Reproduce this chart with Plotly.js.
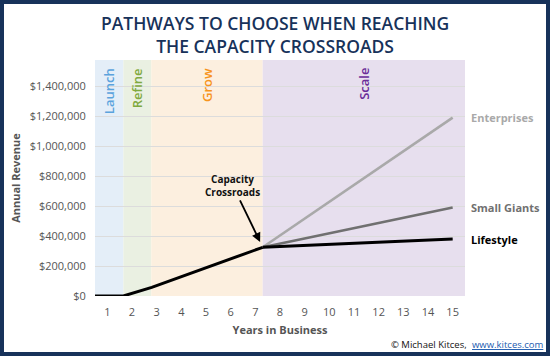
<!DOCTYPE html>
<html>
<head>
<meta charset="utf-8">
<script src="https://cdn.plot.ly/plotly-3.0.1.min.js"></script>
<style>
html,body{margin:0;padding:0;background:#fff;}
#wrap{position:relative;width:550px;height:356px;}
#chart{width:550px;height:356px;}
#frame{position:absolute;left:0;top:0;width:550px;height:356px;box-sizing:border-box;border:4px solid #17325a;pointer-events:none;}
</style>
</head>
<body>
<div id="wrap"><div id="chart"></div><div id="frame"></div></div>
<script>
// Phases
var phaseNames = ["Launch", "Refine", "Grow", "Scale"];
var phaseStart = [0.5, 1.65, 2.78, 7.3];
var phaseEnd = [1.65, 2.78, 7.3, 15.5];
var phaseFill = ["#e4eef8", "#eaf0e2", "#fcefdf", "#e7dfee"];
var phaseText = ["#5ba3dd", "#7fa93e", "#f7941d", "#6a2c98"];

// Base path (years, revenue)
var baseYears = [0.5, 1.65, 2.8, 7.3];
var baseRevenue = [0, 0, 58000, 325000];

// Pathways after the Capacity Crossroads
var pathYears = [7.3, 15];
var pathNames = ["Enterprises", "Small Giants", "Lifestyle"];
var enterprises = [325000, 1190000];
var smallGiants = [325000, 590000];
var lifestyle = [325000, 380000];
var pathColors = ["#a9a9a9", "#707070", "#000000"];

var yTicks = [0, 200000, 400000, 600000, 800000, 1000000, 1200000, 1400000];
var xTicks = [1,2,3,4,5,6,7,8,9,10,11,12,13,14,15];

var F = "Open Sans, sans-serif";
var traces = [];
var pathVals = [enterprises, smallGiants, lifestyle];
for (var i = 0; i < pathVals.length; i++) {
  traces.push({x: pathYears, y: pathVals[i], mode: "lines", type: "scatter",
    line: {color: pathColors[i], width: i === 2 ? 3 : 2.6}, hoverinfo: "skip"});
}
traces.push({x: baseYears, y: baseRevenue, mode: "lines", type: "scatter",
  line: {color: "#000", width: 3}, hoverinfo: "skip"});

var shapes = [];
var annotations = [];
for (var p = 0; p < phaseNames.length; p++) {
  shapes.push({type: "rect", xref: "x", yref: "paper", x0: phaseStart[p], x1: phaseEnd[p], y0: 0, y1: 1,
    fillcolor: phaseFill[p], line: {width: 0}, layer: "below"});
  annotations.push({xref: "x", yref: "paper", x: (phaseStart[p] + phaseEnd[p]) / 2, y: 1, yshift: -6,
    xanchor: "center", yanchor: "top", textangle: -90, showarrow: false, text: phaseNames[p],
    font: {family: F, size: 13, color: phaseText[p], weight: 600}});
}
for (var k = 0; k < pathNames.length; k++) {
  annotations.push({xref: "paper", yref: "y", x: 1, xshift: 4, xanchor: "left", yanchor: "middle",
    y: pathVals[k][pathVals[k].length - 1], showarrow: false, text: pathNames[k],
    font: {family: F, size: 11, color: pathColors[k], weight: 700}});
}
annotations.push({x: baseYears[baseYears.length - 1], y: baseRevenue[baseRevenue.length - 1],
  xref: "x", yref: "y", text: "Capacity<br>Crossroads", showarrow: true, arrowhead: 2, arrowsize: 1,
  arrowwidth: 1.8, arrowcolor: "#000", ax: -30, ay: -62, standoff: 6,
  font: {family: F, size: 10, color: "#111", weight: 700}});
// Title
annotations.push({xref: "paper", yref: "paper", x: 0.487, y: 1.218, xanchor: "center", yanchor: "top",
  showarrow: false, text: "PATHWAYS TO CHOOSE WHEN REACHING<br>THE CAPACITY CROSSROADS",
  font: {family: F, size: 17.5, color: "#17325a", weight: 600}});
// Credit
annotations.push({xref: "paper", yref: "paper", x: 1.0116, y: -0.205, xanchor: "right", yanchor: "middle",
  showarrow: false, text: "© Michael Kitces,",
  font: {family: F, size: 9.5, color: "#111"}});
annotations.push({xref: "paper", yref: "paper", x: 1.0125, y: -0.205, xanchor: "left", yanchor: "middle",
  showarrow: false, text: "<a href='http://www.kitces.com' style='color:#1c5bb0'>www.kitces.com</a>",
  font: {family: F, size: 9.5, color: "#1c5bb0", lineposition: "under"}});

var layout = {
  width: 550, height: 356,
  margin: {l: 95, r: 85, t: 60, b: 60},
  paper_bgcolor: "#fff", plot_bgcolor: "rgba(0,0,0,0)",
  showlegend: false,
  xaxis: {range: [0.5, 15.5], tickvals: xTicks, showgrid: false, zeroline: false, showline: false,
    ticks: "outside", ticklen: 6, tickcolor: "rgba(0,0,0,0)",
    tickfont: {family: F, size: 11, color: "#555"},
    title: {text: "Years in Business", font: {family: F, size: 11, color: "#555", weight: 700}, standoff: 8}},
  yaxis: {range: [0, 1575000], tickvals: yTicks, tickformat: "$,.0f",
    showgrid: true, gridcolor: "#dcdcdc", gridwidth: 1, zeroline: false, showline: false,
    ticks: "outside", ticklen: 6, tickcolor: "rgba(0,0,0,0)",
    tickfont: {family: F, size: 11, color: "#555"},
    title: {text: "Annual Revenue", font: {family: F, size: 11, color: "#555", weight: 700}, standoff: 6}},
  shapes: shapes,
  annotations: annotations
};
Plotly.newPlot("chart", traces, layout, {staticPlot: true, displayModeBar: false});
</script>
</body>
</html>
